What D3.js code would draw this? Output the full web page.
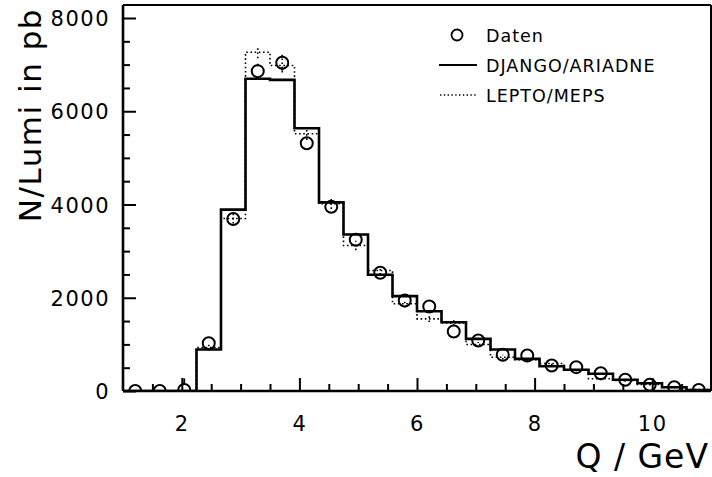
<!DOCTYPE html>
<html>
<head>
<meta charset="utf-8">
<script src="https://cdn.jsdelivr.net/npm/d3@7/dist/d3.min.js"></script>
<style>
  html, body { margin: 0; padding: 0; background: #fff; }
  svg { display: block; }
  text { font-family: "DejaVu Sans", sans-serif; fill: #000; }
</style>
</head>
<body>
<svg id="chart" width="712" height="477"></svg>
<script>
// ---- data ----
const xMin = 1, xMax = 11, nBins = 24;
const dataVals   = [0, 0, 20, 1025, 3690, 6860, 7040, 5315, 3950, 3243, 2535, 1941, 1812, 1276, 1083, 776, 761, 547, 511, 382, 240, 133, 82, 20];
const dataErr    = [0, 0, 250, 60, 90, 160, 170, 110, 90, 80, 70, 60, 60, 50, 45, 40, 40, 35, 35, 30, 25, 20, 15, 10];
const djangoVals = [0, 0, 0, 890, 3890, 6696, 6674, 5637, 4045, 3357, 2492, 2034, 1712, 1476, 1119, 890, 690, 532, 455, 369, 240, 167, 82, 20];
const leptoVals  = [0, 0, 0, 930, 3700, 7266, 6981, 5516, 4015, 3120, 2584, 1870, 1548, 1460, 997, 725, 670, 590, 455, 262, 225, 140, 75, 30];
const leptoErr   = [0, 0, 0, 60, 110, 130, 150, 130, 110, 100, 90, 80, 70, 60, 55, 50, 45, 40, 35, 30, 25, 20, 15, 10];
const xTickVals  = [2, 4, 6, 8, 10];
const yTickVals  = [0, 2000, 4000, 6000, 8000];
const legendLabels = ["Daten", "DJANGO/ARIADNE", "LEPTO/MEPS"];
const xTitle = "Q / GeV";
const yTitle = "N/Lumi in pb";

// ---- layout ----
const pLeft = 123, pRight = 711, pBottom = 391, pTop = 5;
const R = 6;
const svg = d3.select("#chart");
const x = d3.scaleLinear().domain([xMin, xMax]).range([pLeft, pRight]);
const y = d3.scaleLinear().domain([0, 8000]).range([pBottom, 18]);

const binW = (xMax - xMin) / nBins;
const edges = d3.range(nBins + 1).map(i => xMin + i * binW);
const centers = d3.range(nBins).map(i => xMin + (i + 0.5) * binW);

svg.append("defs").append("clipPath").attr("id", "clip")
  .append("rect").attr("x", pLeft).attr("y", pTop).attr("width", pRight - pLeft).attr("height", pBottom - pTop);

const plot = svg.append("g").attr("clip-path", "url(#clip)");

function stepPoints(vals) {
  const pts = [[edges[0], 0]];
  vals.forEach((v, i) => { pts.push([edges[i], v]); pts.push([edges[i + 1], v]); });
  return pts;
}
const line = d3.line().x(d => x(d[0])).y(d => y(d[1]));

// LEPTO dotted histogram
plot.append("path").attr("d", line(stepPoints(leptoVals)))
  .attr("fill", "none").attr("stroke", "#000").attr("stroke-width", 1.6)
  .attr("stroke-dasharray", "1.6,2.6");
// LEPTO error bars
plot.selectAll("line.lerr").data(leptoVals.map((v, i) => ({ v, e: leptoErr[i], c: centers[i] })).filter(d => d.v > 0))
  .enter().append("line")
  .attr("x1", d => x(d.c)).attr("x2", d => x(d.c))
  .attr("y1", d => y(d.v - d.e)).attr("y2", d => y(d.v + d.e))
  .attr("stroke", "#000").attr("stroke-width", 1.6).attr("stroke-dasharray", "1.6,2.6");

// DJANGO solid histogram
plot.append("path").attr("d", line(stepPoints(djangoVals)))
  .attr("fill", "none").attr("stroke", "#000").attr("stroke-width", 2.6);

// data error bars (drawn only outside the marker)
const errData = dataVals.map((v, i) => ({ v, e: dataErr[i], c: centers[i] })).filter(d => y(d.v) - y(d.v + d.e) > R);
plot.selectAll("line.derrUp").data(errData).enter().append("line")
  .attr("x1", d => x(d.c)).attr("x2", d => x(d.c))
  .attr("y1", d => y(d.v) - R).attr("y2", d => y(d.v + d.e))
  .attr("stroke", "#000").attr("stroke-width", 1.8);
plot.selectAll("line.derrDn").data(errData).enter().append("line")
  .attr("x1", d => x(d.c)).attr("x2", d => x(d.c))
  .attr("y1", d => y(d.v) + R).attr("y2", d => y(d.v - d.e))
  .attr("stroke", "#000").attr("stroke-width", 1.8);

// data circles
plot.selectAll("circle.data").data(dataVals.map((v, i) => ({ v, c: centers[i] })))
  .enter().append("circle")
  .attr("cx", d => x(d.c)).attr("cy", d => y(d.v)).attr("r", R)
  .attr("fill", "none").attr("stroke", "#000").attr("stroke-width", 2);

// ---- frame ----
svg.append("line").attr("x1", pLeft).attr("x2", pRight).attr("y1", pTop).attr("y2", pTop)
  .attr("stroke", "#000").attr("stroke-width", 2);
svg.append("line").attr("x1", pRight).attr("x2", pRight).attr("y1", pTop).attr("y2", pBottom)
  .attr("stroke", "#000").attr("stroke-width", 2);

// ---- axes ----
const xMinor = d3.range(xMin + 0.5, xMax, 0.5).filter(v => !xTickVals.includes(v));
const yMinor = d3.range(500, 8000, 500).filter(v => !yTickVals.includes(v));

const xAxisMajor = d3.axisBottom(x).tickValues(xTickVals).tickSize(-13).tickFormat(d3.format("d")).tickPadding(16);
const xAxisMinor = d3.axisBottom(x).tickValues(xMinor).tickSize(-7).tickFormat("");
const yAxisMajor = d3.axisLeft(y).tickValues(yTickVals).tickSize(-13).tickFormat(d3.format("d")).tickPadding(16);
const yAxisMinor = d3.axisLeft(y).tickValues(yMinor).tickSize(-7).tickFormat("");

function styleAxis(g) {
  g.select(".domain").remove();
  g.selectAll(".tick line").attr("stroke", "#000").attr("stroke-width", 2);
  g.selectAll(".tick text").attr("font-family", "DejaVu Sans, sans-serif").attr("font-size", 21)
    .attr("letter-spacing", "1.5px").attr("fill", "#000");
}
svg.append("g").attr("transform", `translate(0,${pBottom})`).call(xAxisMinor).call(styleAxis);
const gx = svg.append("g").attr("transform", `translate(0,${pBottom})`).call(xAxisMajor).call(styleAxis);
gx.selectAll(".tick text").attr("y", 25).attr("dy", "0.71em");
svg.append("g").attr("transform", `translate(${pLeft},0)`).call(yAxisMinor).call(styleAxis);
const gy = svg.append("g").attr("transform", `translate(${pLeft},0)`).call(yAxisMajor).call(styleAxis);
gy.selectAll(".tick text").attr("x", -13).attr("dy", "0.36em");

// axis lines
svg.append("line").attr("x1", pLeft).attr("x2", pRight).attr("y1", pBottom).attr("y2", pBottom)
  .attr("stroke", "#000").attr("stroke-width", 2.6);
svg.append("line").attr("x1", pLeft).attr("x2", pLeft).attr("y1", pTop).attr("y2", pBottom)
  .attr("stroke", "#000").attr("stroke-width", 2.6);

// ---- titles ----
svg.append("text").attr("x", 709).attr("y", 468).attr("text-anchor", "end")
  .attr("font-size", 33).attr("letter-spacing", "1px").text(xTitle);
svg.append("text").attr("transform", "translate(41,8) rotate(-90)").attr("text-anchor", "end")
  .attr("font-size", 31).attr("letter-spacing", "1.5px").text(yTitle);

// ---- legend ----
const lg = svg.append("g");
lg.append("circle").attr("cx", 457).attr("cy", 35).attr("r", 5.5)
  .attr("fill", "none").attr("stroke", "#000").attr("stroke-width", 1.8);
lg.append("line").attr("x1", 439).attr("x2", 477).attr("y1", 65).attr("y2", 65)
  .attr("stroke", "#000").attr("stroke-width", 2);
lg.append("line").attr("x1", 440).attr("x2", 477).attr("y1", 95).attr("y2", 95)
  .attr("stroke", "#000").attr("stroke-width", 1.4).attr("stroke-dasharray", "1.4,2.4");
legendLabels.forEach((t, i) => {
  lg.append("text").attr("x", 486).attr("y", 42 + i * 30).attr("font-size", 17.5)
    .attr("letter-spacing", "1px").text(t);
});
</script>
</body>
</html>
